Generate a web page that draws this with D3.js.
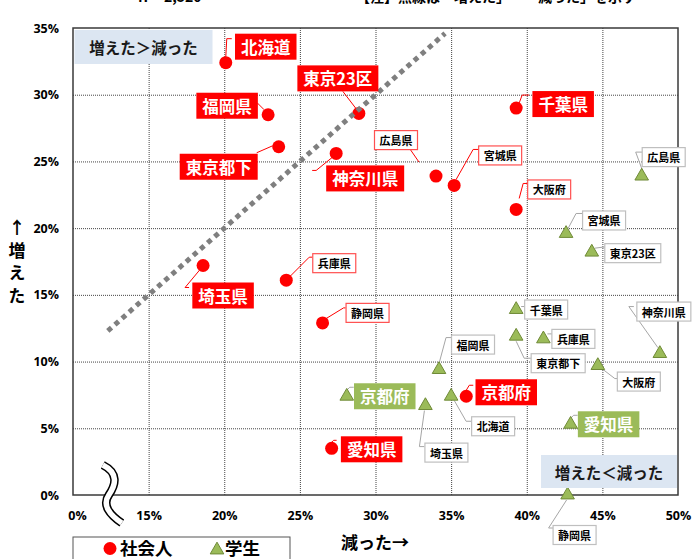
<!DOCTYPE html>
<html>
<head>
<meta charset="utf-8">
<script src="https://cdn.jsdelivr.net/npm/d3@7"></script>
<style>
  body { margin: 0; background: #fff; }
  svg { display: block; }
  text { font-family: "Noto Sans CJK JP", "Noto Sans", sans-serif; font-weight: bold; }
</style>
</head>
<body>
<div id="chart"></div>
<script>
// --- data (x = 減った %, y = 増えた %) ---
const workerNames    = ["北海道", "福岡県", "東京23区", "東京都下", "神奈川県", "千葉県", "広島県", "宮城県", "大阪府", "埼玉県", "兵庫県", "静岡県", "京都府", "愛知県"];
const workerDecrease = [20.1, 22.9, 28.9, 23.6, 27.4, 39.3, 34.0, 35.2, 39.3, 18.6, 24.1, 26.5, 36.0, 27.1];
const workerIncrease = [32.4, 28.5, 28.6, 26.1, 25.6, 29.0, 23.9, 23.2, 21.4, 17.2, 16.1, 12.9, 7.4, 3.5];

const studentNames    = ["広島県", "宮城県", "東京23区", "千葉県", "兵庫県", "東京都下", "神奈川県", "大阪府", "福岡県", "京都府", "北海道", "埼玉県", "愛知県", "静岡県"];
const studentDecrease = [47.6, 42.6, 44.3, 39.3, 41.1, 39.3, 48.8, 44.7, 34.2, 28.1, 35.0, 33.3, 42.9, 42.7];
const studentIncrease = [23.9, 19.6, 18.2, 13.9, 11.7, 11.9, 10.6, 9.7, 9.4, 7.4, 7.4, 6.7, 5.3, 0.0];

const bigWorker  = ["北海道", "福岡県", "東京23区", "東京都下", "神奈川県", "千葉県", "埼玉県", "京都府", "愛知県"];
const bigStudent = ["京都府", "愛知県"];

const xTicks = [10, 15, 20, 25, 30, 35, 40, 45, 50];
const xTickLabels = ["0%", "15%", "20%", "25%", "30%", "35%", "40%", "45%", "50%"];
const yTicks = [0, 5, 10, 15, 20, 25, 30, 35];
const yTickLabels = ["0%", "5%", "10%", "15%", "20%", "25%", "30%", "35%"];
const diagonal = [12.3, 34.6]; // 増えた = 減った

// --- label placement (offset of box centre and leader line from the marker) ---
const workerLabelPos = {
  "北海道":   {dx: 40, dy: -16, lead: [[0, -5], [1, -24], [6, -24]]},
  "福岡県":   {dx: -41, dy: -9, lead: [[-4, -5], [-11, -12]]},
  "東京23区": {dx: -21, dy: -35, lead: [[-3, -5], [-16, -22]]},
  "東京都下": {dx: -60, dy: 20, lead: [[-6, -1], [-22, 6]]},
  "神奈川県": {dx: 29, dy: 25, lead: [[-4, 4], [-20, 17], [-24, 17]]},
  "千葉県":   {dx: 47, dy: -4, lead: [[3, -5], [6, -13], [13, -13]]},
  "広島県":   {dx: -40, dy: -36, lead: [[-17, -14], [-26, -27]]},
  "宮城県":   {dx: 46, dy: -30, lead: [[2, -6], [19, -36], [25, -36]]},
  "大阪府":   {dx: 33, dy: -20, lead: [[3, -11], [7, -26], [12, -26]]},
  "埼玉県":   {dx: 20, dy: 30, lead: [[-3, 4], [-18, 22], [-14, 22]]},
  "兵庫県":   {dx: 48, dy: -17, lead: [[4, -4], [23, -23], [26, -23]]},
  "静岡県":   {dx: 45, dy: -10, lead: [[3, -4], [21, -15], [23, -15]]},
  "京都府":   {dx: 40, dy: -4, lead: [[0, -6], [3, -11], [7, -11]]},
  "愛知県":   {dx: 40, dy: 1, lead: [[0, -6], [2, -8], [5, -8]]}
};
const studentLabelPos = {
  "広島県":   {dx: 22, dy: -19, lead: [[1, -5], [-6, -24], [1, -24]]},
  "宮城県":   {dx: 38, dy: -13, lead: [[2, -5], [10, -20], [17, -20]]},
  "東京23区": {dx: 41, dy: 1, lead: [[3, -4], [11, -5], [16, -5]]},
  "千葉県":   {dx: 30, dy: 0, lead: [[5, -3], [9, -3]]},
  "兵庫県":   {dx: 30, dy: 0, lead: [[4, -5], [9, -5]]},
  "東京都下": {dx: 42, dy: 27, lead: [[0, 5], [8, 22], [16, 22]]},
  "神奈川県": {dx: 4, dy: -42, lead: [[-2, -6], [-31, -47], [-26, -47]]},
  "大阪府":   {dx: 41, dy: 16, lead: [[4, 3], [17, 13], [20, 13]]},
  "福岡県":   {dx: 34, dy: -25, lead: [[0, -6], [7, -32], [12, -32]]},
  "京都府":   {dx: 38, dy: 0, lead: [[0, -6], [3, -9], [7, -9]]},
  "北海道":   {dx: 42, dy: 30, lead: [[3, 4], [15, 25], [21, 25]]},
  "埼玉県":   {dx: 21, dy: 47, lead: [[-1, 5], [-6, 41], [-1, 41]]},
  "愛知県":   {dx: 38, dy: 0, lead: [[0, -6], [3, -9], [7, -9]]},
  "静岡県":   {dx: 7, dy: 40, lead: [[-1, 5], [-19, 33], [-13, 33]]}
};

const width = 693, height = 559;
const plotLeft = 73, plotRight = 678, plotTop = 28, plotBottom = 495;
const red = "#ff0000", green = "#9bbb59", greenDark = "#6f8a37";

const svg = d3.select("#chart").append("svg")
  .attr("width", width)
  .attr("height", height);

const x = d3.scaleLinear().domain([10, 50]).range([plotLeft, plotRight]);
const y = d3.scaleLinear().domain([0, 35]).range([plotBottom, plotTop]);

// cut-off header line at the very top
svg.append("text").attr("x", 136).attr("y", 2).style("font-size", "14px").text("ｎ＝2,520");
svg.append("text").attr("x", 356).attr("y", 2).style("font-size", "14px").text("【注】点線は「増えた」＝「減った」を示す");

// gridlines
const xGrid = svg.append("g")
  .attr("transform", `translate(0,${plotBottom})`)
  .call(d3.axisBottom(x).tickValues(xTicks.slice(1, -1)).tickSize(-(plotBottom - plotTop)).tickFormat(""));
const yGrid = svg.append("g")
  .attr("transform", `translate(${plotLeft},0)`)
  .call(d3.axisLeft(y).tickValues(yTicks.slice(1, -1)).tickSize(-(plotRight - plotLeft)).tickFormat(""));
[xGrid, yGrid].forEach(g => {
  g.select(".domain").remove();
  g.selectAll("line").attr("stroke", "#444").attr("stroke-dasharray", "1,1");
});

// plot border
svg.append("rect")
  .attr("x", plotLeft).attr("y", plotTop)
  .attr("width", plotRight - plotLeft).attr("height", plotBottom - plotTop)
  .attr("fill", "none").attr("stroke", "#3a3a3a").attr("stroke-width", 1.5);

// tick labels
const xAxis = svg.append("g")
  .attr("transform", `translate(0,${plotBottom})`)
  .call(d3.axisBottom(x).tickValues(xTicks).tickSize(0).tickPadding(16)
    .tickFormat((d, i) => xTickLabels[i]));
const yAxis = svg.append("g")
  .attr("transform", `translate(${plotLeft},0)`)
  .call(d3.axisLeft(y).tickValues(yTicks).tickSize(0).tickPadding(14)
    .tickFormat((d, i) => yTickLabels[i]));
[xAxis, yAxis].forEach(g => {
  g.select(".domain").remove();
  g.selectAll("text").attr("fill", "#000")
    .style("font-family", "'Open Sans', 'Noto Sans', sans-serif")
    .style("font-weight", "bold").style("font-size", "12.5px");
});
xAxis.selectAll("text").filter((d, i) => i === 0).attr("dx", 4);

// leader lines
const line = d3.line();
function drawLeaders(names, xs, ys, pos, color) {
  svg.append("g").selectAll("path")
    .data(names)
    .enter().append("path")
    .attr("d", (d, i) => line(pos[d].lead.map(p => [x(xs[i]) + p[0], y(ys[i]) + p[1]])))
    .attr("fill", "none")
    .attr("stroke", color)
    .attr("stroke-width", 1);
}
drawLeaders(workerNames, workerDecrease, workerIncrease, workerLabelPos, red);
drawLeaders(studentNames, studentDecrease, studentIncrease, studentLabelPos, "#a6a6a6");

// markers
svg.append("g").selectAll("circle")
  .data(workerNames)
  .enter().append("circle")
  .attr("cx", (d, i) => x(workerDecrease[i]))
  .attr("cy", (d, i) => y(workerIncrease[i]))
  .attr("r", 6.5)
  .attr("fill", red);

const tri = d3.symbol(d3.symbolTriangle, 80);
svg.append("g").selectAll("path")
  .data(studentNames)
  .enter().append("path")
  .attr("d", tri)
  .attr("transform", (d, i) => `translate(${x(studentDecrease[i])},${y(studentIncrease[i])})`)
  .attr("fill", green)
  .attr("stroke", greenDark)
  .attr("stroke-width", 1);

// diagonal 増えた = 減った
svg.append("line")
  .attr("x1", x(diagonal[0])).attr("y1", y(diagonal[0]))
  .attr("x2", x(diagonal[1])).attr("y2", y(diagonal[1]))
  .attr("stroke", "#7f7f7f")
  .attr("stroke-width", 5)
  .attr("stroke-dasharray", "5,4.5");

// label boxes
function drawLabels(names, xs, ys, pos, bigSet, bigFill, smallStroke) {
  names.forEach((name, i) => {
    const big = bigSet.includes(name);
    const cx = x(xs[i]) + pos[name].dx, cy = y(ys[i]) + pos[name].dy;
    const g = svg.append("g");
    const r = g.append("rect");
    const t = g.append("text")
      .attr("x", cx).attr("y", cy)
      .attr("text-anchor", "middle")
      .attr("dominant-baseline", "central")
      .style("font-size", big ? "16.5px" : "11px")
      .attr("fill", big ? "#fff" : "#000")
      .text(name);
    const w = t.node().getComputedTextLength() + (big ? 12 : 10);
    const h = big ? 26 : 19;
    r.attr("x", cx - w / 2).attr("y", cy - h / 2)
      .attr("width", w).attr("height", h)
      .attr("fill", big ? bigFill : "#fff")
      .attr("stroke", big ? "none" : smallStroke)
      .attr("stroke-width", 1.2);
  });
}
drawLabels(workerNames, workerDecrease, workerIncrease, workerLabelPos, bigWorker, red, "#ff5050");
drawLabels(studentNames, studentDecrease, studentIncrease, studentLabelPos, bigStudent, green, "#bfbfbf");

// quadrant notes
function note(x0, y0, w, h, txt) {
  svg.append("rect").attr("x", x0).attr("y", y0).attr("width", w).attr("height", h).attr("fill", "#dce6f2");
  svg.append("text").attr("x", x0 + w / 2).attr("y", y0 + h / 2)
    .attr("text-anchor", "middle").attr("dominant-baseline", "central")
    .style("font-size", "15.5px").attr("fill", "#1a1a1a").text(txt);
}
note(plotLeft + 1.5, plotTop + 2, 138, 34, "増えた＞減った");
note(541, 455, 136, 33, "増えた＜減った");

// axis break mark
const bx = x(12.5), by = y(0);
const wave = `M${bx - 8},${by - 30} C${bx + 8},${by - 22} ${bx + 5},${by - 10} ${bx - 2},${by} C${bx - 9},${by + 10} ${bx - 1},${by + 20} ${bx + 11},${by + 28}`;
svg.append("path").attr("d", wave).attr("fill", "none").attr("stroke", "#000").attr("stroke-width", 8.5);
svg.append("path").attr("d", wave).attr("fill", "none").attr("stroke", "#fff").attr("stroke-width", 5.5);

// axis titles
svg.append("text").attr("x", 375).attr("y", 541)
  .attr("text-anchor", "middle").attr("dominant-baseline", "central")
  .style("font-size", "17px").text("減った→");
svg.append("text")
  .attr("x", 17).attr("y", 219.5)
  .style("writing-mode", "vertical-rl")
  .style("text-orientation", "upright")
  .style("letter-spacing", "5.5px")
  .style("font-size", "17px")
  .text("↑増えた");

// legend
const legend = svg.append("g");
legend.append("rect").attr("x", 73).attr("y", 537).attr("width", 217).attr("height", 40)
  .attr("fill", "#fff").attr("stroke", "#555").attr("stroke-width", 1);
legend.append("circle").attr("cx", 110).attr("cy", 548.5).attr("r", 6.5).attr("fill", red);
legend.append("text").attr("x", 120).attr("y", 554.5)
  .style("font-size", "17.5px").text("社会人");
legend.append("path").attr("d", tri).attr("transform", "translate(217,550)")
  .attr("fill", green).attr("stroke", greenDark);
legend.append("text").attr("x", 225).attr("y", 554.5)
  .style("font-size", "17.5px").text("学生");
</script>
</body>
</html>
